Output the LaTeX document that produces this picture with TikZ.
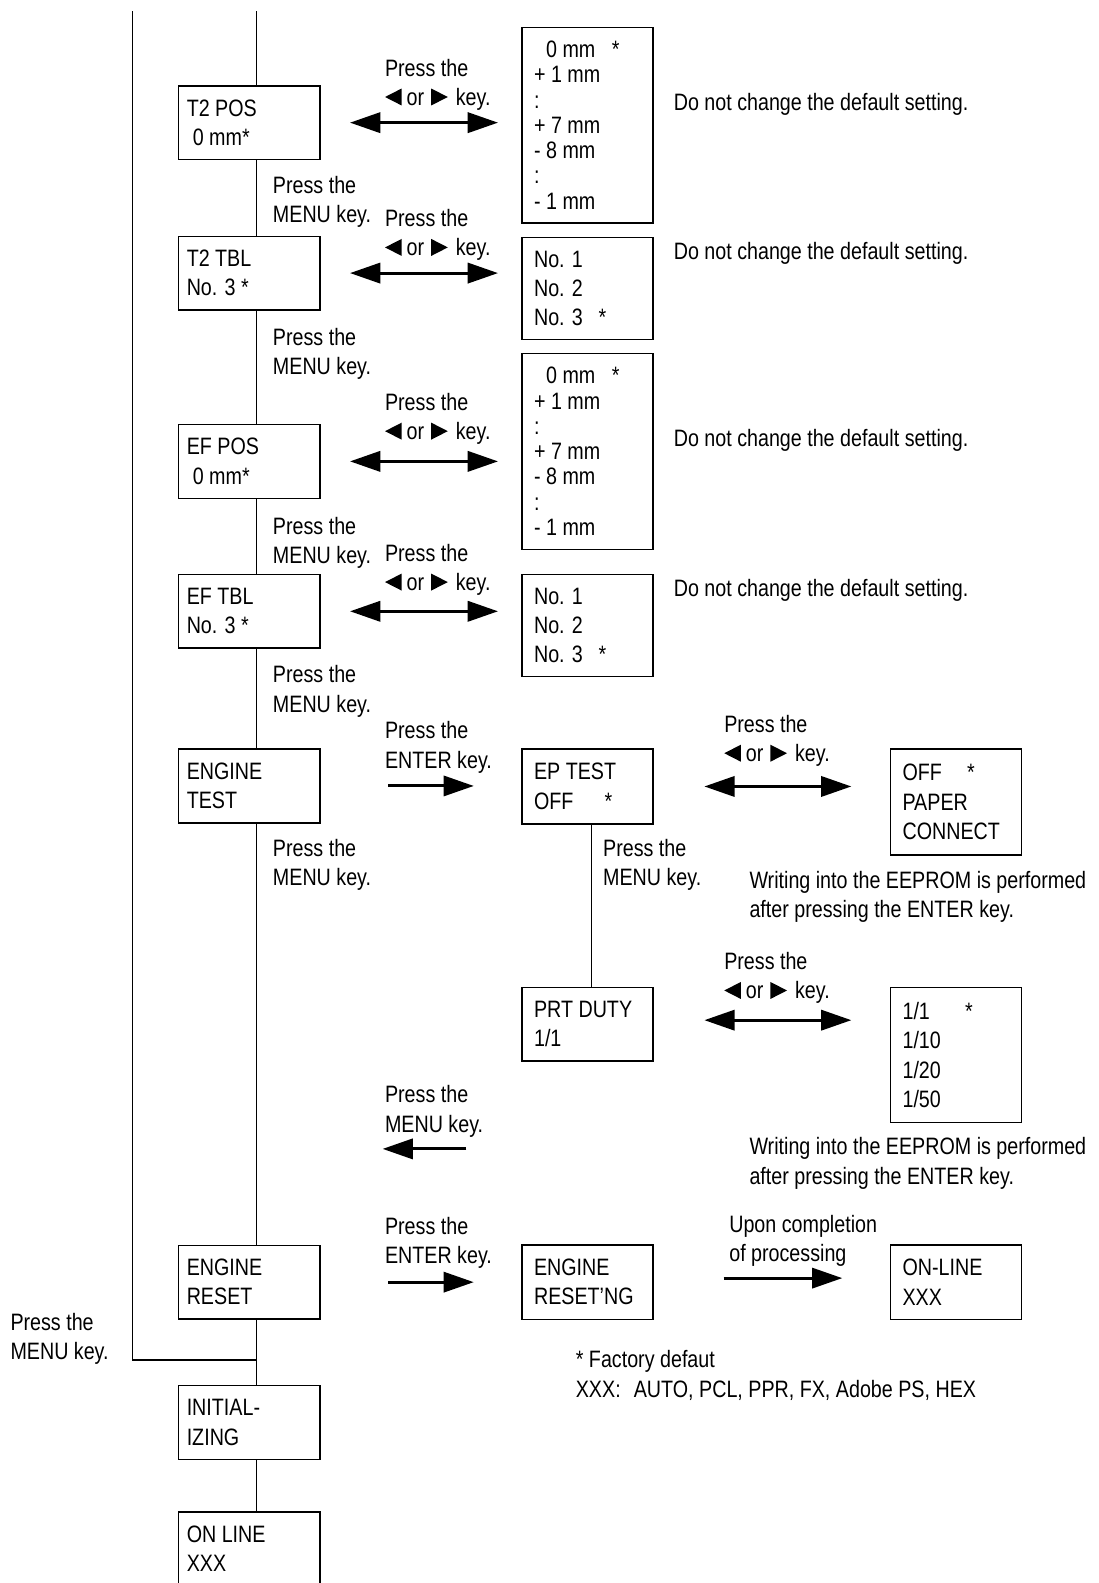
\documentclass[tikz,border=0pt]{standalone}
\usepackage{fontspec}
\setmainfont{Liberation Sans}[FakeStretch=0.83]
\usetikzlibrary{arrows.meta}
\tikzset{
  menubox/.style={draw,line width=0.7pt,text width=62pt,inner xsep=4pt,inner ysep=0pt,minimum height=36.5pt,align=flush left},
  valbox/.style={draw,line width=0.7pt,text width=53pt,inner xsep=6pt,inner ysep=0pt,align=flush left},
  hint/.style={inner sep=0pt,anchor=west,align=flush left,yshift=-1.2pt},
  link/.style={line width=0.6pt},
  keyarrow/.style={{Triangle[length=15pt,width=10pt]}-{Triangle[length=15pt,width=10pt]},line width=1.5pt},
  stepar/.style={-{Triangle[length=15pt,width=10pt]},line width=1.5pt}
}
\newcommand{\lefttri}{\tikz[x=1pt,y=1pt,baseline=0pt]\fill (0,4.2) -- (8.2,0) -- (8.2,8.4) -- cycle;}
\newcommand{\righttri}{\tikz[x=1pt,y=1pt,baseline=0pt]\fill (8.2,4.2) -- (0,0) -- (0,8.4) -- cycle;}
\newcommand{\keyline}{\lefttri\hspace{2.5pt}or\hspace{3.5pt}\righttri\hspace{4pt}key.}

\begin{document}
\begin{tikzpicture}[x=0.5pt,y=-0.5pt,font=\fontsize{11.75}{14.5}\selectfont]
  \useasboundingbox (0,0) rectangle (1088,1568);
  \node[menubox] (t2pos) at (247,121.5) {T2 POS\\\hspace*{3pt}0 mm*};
  \node[menubox] (t2tbl) at (247,270.5) {T2 TBL\\No. 3 *};
  \node[menubox] (efpos) at (247,457) {EF POS\\\hspace*{3pt}0 mm*};
  \node[menubox] (eftbl) at (247,605.5) {EF TBL\\No. 3 *};
  \node[menubox] (engtest) at (247,778.5) {ENGINE\\TEST};
  \node[menubox] (engreset) at (247,1270) {ENGINE\\RESET};
  \node[menubox] (init) at (247,1409) {INITIAL-\\IZING};
  \node[menubox] (online) at (247,1534) {ON LINE\\XXX};

  \node[valbox,minimum height=97pt,font=\fontsize{11.75}{12.5}\selectfont] (t2posval) at (582,124)
    {\hspace*{6pt}\makebox[32.5pt][l]{0 mm}*\\+ 1 mm\\:\\+ 7 mm\\- 8 mm\\:\\- 1 mm};
  \node[valbox,minimum height=50.5pt] (t2tblval) at (582,285.5) {No. 1\\No. 2\\\makebox[32pt][l]{No. 3}*};
  \node[valbox,minimum height=97pt,font=\fontsize{11.75}{12.5}\selectfont] (efposval) at (582,447)
    {\hspace*{6pt}\makebox[32.5pt][l]{0 mm}*\\+ 1 mm\\:\\+ 7 mm\\- 8 mm\\:\\- 1 mm};
  \node[valbox,minimum height=50.5pt] (eftblval) at (582,619.5) {No. 1\\No. 2\\\makebox[32pt][l]{No. 3}*};
  \node[valbox,minimum height=37pt] (eptest) at (582,779) {EP TEST\\\makebox[35pt][l]{OFF}*};
  \node[valbox,minimum height=36.5pt] (prtduty) at (582,1014.5) {PRT DUTY\\1/1};
  \node[valbox,minimum height=37pt] (resetng) at (582,1270) {ENGINE\\RESET'NG};

  \node[valbox,minimum height=52.5pt] (offbox) at (947,794.5) {\makebox[32pt][l]{OFF}*\\PAPER\\CONNECT};
  \node[valbox,minimum height=67pt] (dutybox) at (947,1045) {\makebox[31pt][l]{1/1}*\\1/10\\1/20\\1/50};
  \node[valbox,minimum height=37pt] (onlinebox) at (947,1270) {ON-LINE\\XXX};

  \node[hint] (menua) at (270,197.5) {Press the\\MENU key.};
  \node[hint] (menub) at (270,348) {Press the\\MENU key.};
  \node[hint] (menuc) at (270,535.5) {Press the\\MENU key.};
  \node[hint] (menud) at (270,682.5) {Press the\\MENU key.};
  \node[hint] (menue) at (270,854.5) {Press the\\MENU key.};
  \node[hint] (menuf) at (597,854.5) {Press the\\MENU key.};
  \node[hint] (menuleft) at (10,1323.5) {Press the\\MENU key.};
  \node[hint] (menuback) at (381,1098.5) {Press the\\MENU key.};

  \node[hint] (keya) at (381,81.5) {Press the\\\keyline};
  \node[hint] (keyb) at (381,230.5) {Press the\\\keyline};
  \node[hint] (keyc) at (381,412.5) {Press the\\\keyline};
  \node[hint] (keyd) at (381,562) {Press the\\\keyline};
  \node[hint] (keye) at (717,731.5) {Press the\\\keyline};
  \node[hint] (keyf) at (717,966.5) {Press the\\\keyline};

  \node[hint] (entera) at (381,738) {Press the\\ENTER key.};
  \node[hint] (enterb) at (381,1229) {Press the\\ENTER key.};
  \node[hint] (upon) at (722,1227) {Upon completion\\of processing};

  \node[hint] (keepa) at (667,101) {Do not change the default setting.};
  \node[hint] (keepb) at (667,249) {Do not change the default setting.};
  \node[hint] (keepc) at (667,434) {Do not change the default setting.};
  \node[hint] (keepd) at (667,582) {Do not change the default setting.};
  \node[hint] (writea) at (742,886) {Writing into the EEPROM is performed\\after pressing the ENTER key.};
  \node[hint] (writeb) at (742,1150) {Writing into the EEPROM is performed\\after pressing the ENTER key.};
  \node[hint] (factory) at (570,1360) {* Factory defaut\\XXX:\hspace{6.5pt}AUTO, PCL, PPR, FX, Adobe PS, HEX};

  \coordinate (top) at (254,11);
  \coordinate (lefttop) at (131,11);
  \coordinate (join) at (254,1347);
  \coordinate (backfrom) at (462,1138);
  \coordinate (backto) at (379,1138);

  \draw[link] (lefttop) |- (join);
  \draw[link] (top) -- (top |- t2pos.north);
  \foreach \a/\b in {t2pos/t2tbl,t2tbl/efpos,efpos/eftbl,eftbl/engtest,engtest/engreset,engreset/init,init/online}
    \draw[link] ([xshift=3.5pt]\a.south) -- ([xshift=3.5pt]\b.north);
  \draw[link] ([xshift=2pt]eptest.south) -- ([xshift=2pt]prtduty.north);

  \foreach \a/\b in {t2pos/t2posval,t2tbl/t2tblval,efpos/efposval,eftbl/eftblval}
    \draw[keyarrow,shorten <=14.5pt,shorten >=11.5pt] (\a.east) -- (\a.east -| \b.west);
  \draw[keyarrow,shorten <=25pt,shorten >=19pt] (eptest.east) -- (eptest.east -| offbox.west);
  \draw[keyarrow,shorten <=25pt,shorten >=19pt] ([yshift=2pt]prtduty.east) -- ([yshift=2pt]prtduty.east -| dutybox.west);

  \draw[stepar,shorten <=33.5pt,shorten >=23.5pt] (engtest.east) -- (engtest.east -| eptest.west);
  \draw[stepar,shorten <=33.5pt,shorten >=23.5pt] (engreset.east) -- (engreset.east -| resetng.west);
  \draw[stepar,shorten <=34.5pt,shorten >=23.5pt] ([yshift=2pt]resetng.east) -- ([yshift=2pt]onlinebox.west);
  \draw[stepar] (backfrom) -- (backto);
\end{tikzpicture}
\end{document}
